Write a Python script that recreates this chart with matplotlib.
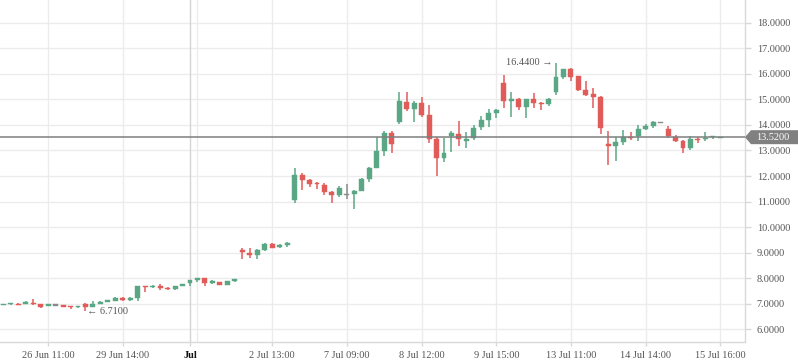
import matplotlib
matplotlib.use('Agg')
import matplotlib.pyplot as plt
from matplotlib.patches import Polygon

# ---- data ----
opens = [6.95, 6.97, 7.00, 7.00, 7.04, 6.99, 6.92, 6.95, 6.94, 6.89,
         6.86, 6.99, 6.88, 6.99, 7.07, 7.12, 7.22, 7.15, 7.22, 7.69,
         7.65, 7.71, 7.62, 7.56, 7.70, 7.82, 7.93, 8.01, 7.80, 7.85,
         7.74, 7.90, 9.09, 9.00, 8.91, 9.09, 9.34, 9.24, 9.30, 11.06,
         12.04, 11.84, 11.71, 11.65, 11.37, 11.27, 11.26, 11.31, 11.42, 11.89,
         12.32, 12.99, 13.69, 14.12, 14.90, 14.63, 14.85, 14.39, 13.45, 12.72,
         13.56, 13.64, 13.38, 13.48, 13.91, 14.19, 14.48, 15.64, 14.95, 15.01,
         14.71, 15.01, 14.87, 14.81, 15.30, 15.89, 16.18, 15.91, 15.37, 15.21,
         15.10, 13.24, 13.17, 13.33, 13.54, 13.57, 13.84, 13.97, 14.09, 13.84,
         13.51, 13.38, 13.08, 13.46, 13.45, 13.51, 13.51]
highs = [6.99, 7.03, 7.02, 7.11, 7.20, 7.00, 6.99, 6.97, 6.95, 6.90,
         6.93, 7.02, 7.12, 7.09, 7.15, 7.26, 7.25, 7.27, 7.70, 7.70,
         7.73, 7.78, 7.65, 7.70, 7.77, 7.94, 8.02, 8.02, 7.91, 7.86,
         7.90, 7.98, 9.19, 9.19, 9.14, 9.39, 9.36, 9.33, 9.41, 12.33,
         12.10, 11.90, 11.77, 11.73, 11.40, 11.62, 11.67, 11.46, 11.94, 12.37,
         13.54, 13.78, 13.78, 15.30, 15.30, 14.92, 15.10, 14.77, 13.54, 13.47,
         13.75, 14.15, 13.72, 14.01, 14.35, 14.61, 14.62, 15.94, 15.28, 15.06,
         15.03, 15.23, 14.88, 15.05, 16.44, 16.20, 16.22, 15.92, 15.73, 15.43,
         15.12, 13.77, 13.54, 13.80, 13.74, 14.00, 14.05, 14.16, 14.09, 13.96,
         13.60, 13.40, 13.56, 13.54, 13.72, 13.58, 13.53]
lows = [6.94, 6.96, 6.95, 6.99, 6.95, 6.82, 6.90, 6.93, 6.88, 6.81,
        6.85, 6.71, 6.86, 6.97, 7.05, 7.10, 7.12, 7.12, 7.12, 7.47,
        7.62, 7.54, 7.52, 7.52, 7.68, 7.71, 7.85, 7.69, 7.78, 7.73,
        7.73, 7.87, 8.76, 8.78, 8.77, 9.05, 9.18, 9.17, 9.21, 10.95,
        11.45, 11.55, 11.51, 11.26, 10.95, 11.16, 11.09, 10.71, 11.40, 11.78,
        12.30, 12.78, 12.91, 14.04, 14.55, 14.10, 14.30, 13.28, 12.01, 12.56,
        12.95, 13.18, 13.08, 13.42, 13.80, 13.90, 14.27, 14.67, 14.32, 14.59,
        14.27, 14.68, 14.60, 14.75, 15.17, 15.78, 15.72, 15.33, 15.15, 14.67,
        13.64, 12.43, 12.60, 13.20, 13.42, 13.38, 13.80, 13.86, 14.09, 13.48,
        13.35, 12.89, 13.02, 13.30, 13.36, 13.46, 13.50]
closes = [6.98, 7.02, 6.97, 7.08, 6.99, 6.89, 6.97, 6.95, 6.89, 6.86,
          6.92, 6.87, 7.00, 7.08, 7.13, 7.22, 7.15, 7.24, 7.69, 7.64,
          7.70, 7.60, 7.56, 7.69, 7.76, 7.93, 8.01, 7.82, 7.89, 7.74,
          7.89, 7.96, 9.01, 8.90, 9.12, 9.33, 9.20, 9.31, 9.39, 12.04,
          11.84, 11.70, 11.67, 11.39, 11.27, 11.52, 11.26, 11.41, 11.88, 12.30,
          12.98, 13.69, 13.26, 14.93, 14.63, 14.86, 14.39, 13.46, 12.72, 12.90,
          13.67, 13.43, 13.45, 13.87, 14.19, 14.45, 14.58, 14.95, 15.01, 14.71,
          15.01, 14.85, 14.83, 15.01, 15.87, 16.19, 15.89, 15.38, 15.17, 15.10,
          13.86, 13.17, 13.33, 13.54, 13.49, 13.84, 13.97, 14.11, 14.09, 13.57,
          13.38, 13.08, 13.44, 13.41, 13.49, 13.56, 13.52]

tick_pos = [6, 16, 25, 36, 46, 56, 66, 76, 86, 96]
tick_labels = ['26 Jun 11:00', '29 Jun 14:00', 'Jul', '2 Jul 13:00', '7 Jul 09:00',
               '8 Jul 12:00', '9 Jul 15:00', '13 Jul 11:00', '14 Jul 14:00', '15 Jul 16:00']
grid_pos = [6, 16, 26, 36, 46, 56, 66, 76, 86, 96]
month_pos = 25
y_ticks = [6, 7, 8, 9, 10, 11, 12, 13, 14, 15, 16, 17, 18]
last_price = 13.52
max_idx, max_val = 74, 16.44
min_idx, min_val = 11, 6.71

GREEN = '#5aa786'
RED = '#e15b58'
GRAY = '#8a8a8a'
FONT = ['Liberation Serif', 'DejaVu Serif']
plt.rcParams['font.family'] = FONT

fig = plt.figure(figsize=(7.98, 3.63), dpi=100)
ax = fig.add_axes([0, 20.7 / 363, 745 / 798, 342.3 / 363])
ax.set_xlim(-0.44, 99.3)
ax.set_ylim(5.49, 18.89)

# grid
for y in y_ticks:
    ax.axhline(y, color='#ececec', lw=1, zorder=0)
for x in grid_pos:
    ax.axvline(x, color='#ececec', lw=1, zorder=0)
ax.axvline(month_pos, color='#d4d4d4', lw=1, zorder=0.5)

# candles
w = 0.66
min_h = 0.045
for i, (o, h, l, c) in enumerate(zip(opens, highs, lows, closes)):
    if c > o:
        col = GREEN
    elif c < o:
        col = RED
    else:
        col = GRAY
    ax.vlines(i, l, h, color=col, lw=1.1, zorder=2)
    bot = min(o, c)
    hgt = abs(c - o)
    if hgt < min_h:
        bot = (o + c) / 2 - min_h / 2
        hgt = min_h
    ax.bar(i, hgt, bottom=bot, width=w, color=col, edgecolor=col, lw=0.3, zorder=3)

# last price line
ax.axhline(last_price, color='#7f7f7f', lw=1.1, zorder=4)

# annotations
ax.annotate(f'{max_val:.4f} \u2192', xy=(max_idx, max_val), xytext=(-2.5, 0),
            textcoords='offset points', ha='right', va='center', fontsize=7.4,
            color='#555555', family=['Liberation Serif', 'DejaVu Sans'])
ax.annotate(f'\u2190 {min_val:.4f}', xy=(min_idx, min_val), xytext=(1.2, 0),
            textcoords='offset points', ha='left', va='center', fontsize=7.4,
            color='#555555', family=['Liberation Serif', 'DejaVu Sans'])

# spines
for s in ['top', 'left']:
    ax.spines[s].set_visible(False)
for s in ['bottom', 'right']:
    ax.spines[s].set_color('#d9d9d9')
    ax.spines[s].set_linewidth(1)

ax.yaxis.tick_right()
ax.set_yticks(y_ticks)
ax.set_yticklabels([f'{v:.4f}' for v in y_ticks])
ax.tick_params(axis='y', length=4, color='#d9d9d9', labelsize=7.4,
               labelcolor='#555555', pad=4.5, width=1)
ax.set_xticks(tick_pos)
ax.set_xticklabels(tick_labels)
ax.tick_params(axis='x', length=3, color='#d9d9d9', labelsize=7.4,
               labelcolor='#555555', pad=3, width=1)
for lbl, txt in zip(ax.get_xticklabels(), tick_labels):
    if txt == 'Jul':
        lbl.set_fontweight('bold')
        lbl.set_color('#111111')

# last price label box (figure pixel coordinates)
fig.canvas.draw()
_, py = ax.transData.transform((0, last_price))
x0 = ax.transAxes.transform((1, 0))[0]
hh = 7.0
poly = Polygon([(x0, py), (x0 + 6, py + hh), (798, py + hh), (798, py - hh), (x0 + 6, py - hh)],
               closed=True, transform=None, facecolor='#808080', edgecolor='none',
               zorder=10, figure=fig)
fig.patches.append(poly)
fig.text((x0 + 11) / 798, py / 363, f'{last_price:.4f}', ha='left', va='center',
         fontsize=7.4, color='white', zorder=11)

fig.savefig('out.png', dpi=100)
